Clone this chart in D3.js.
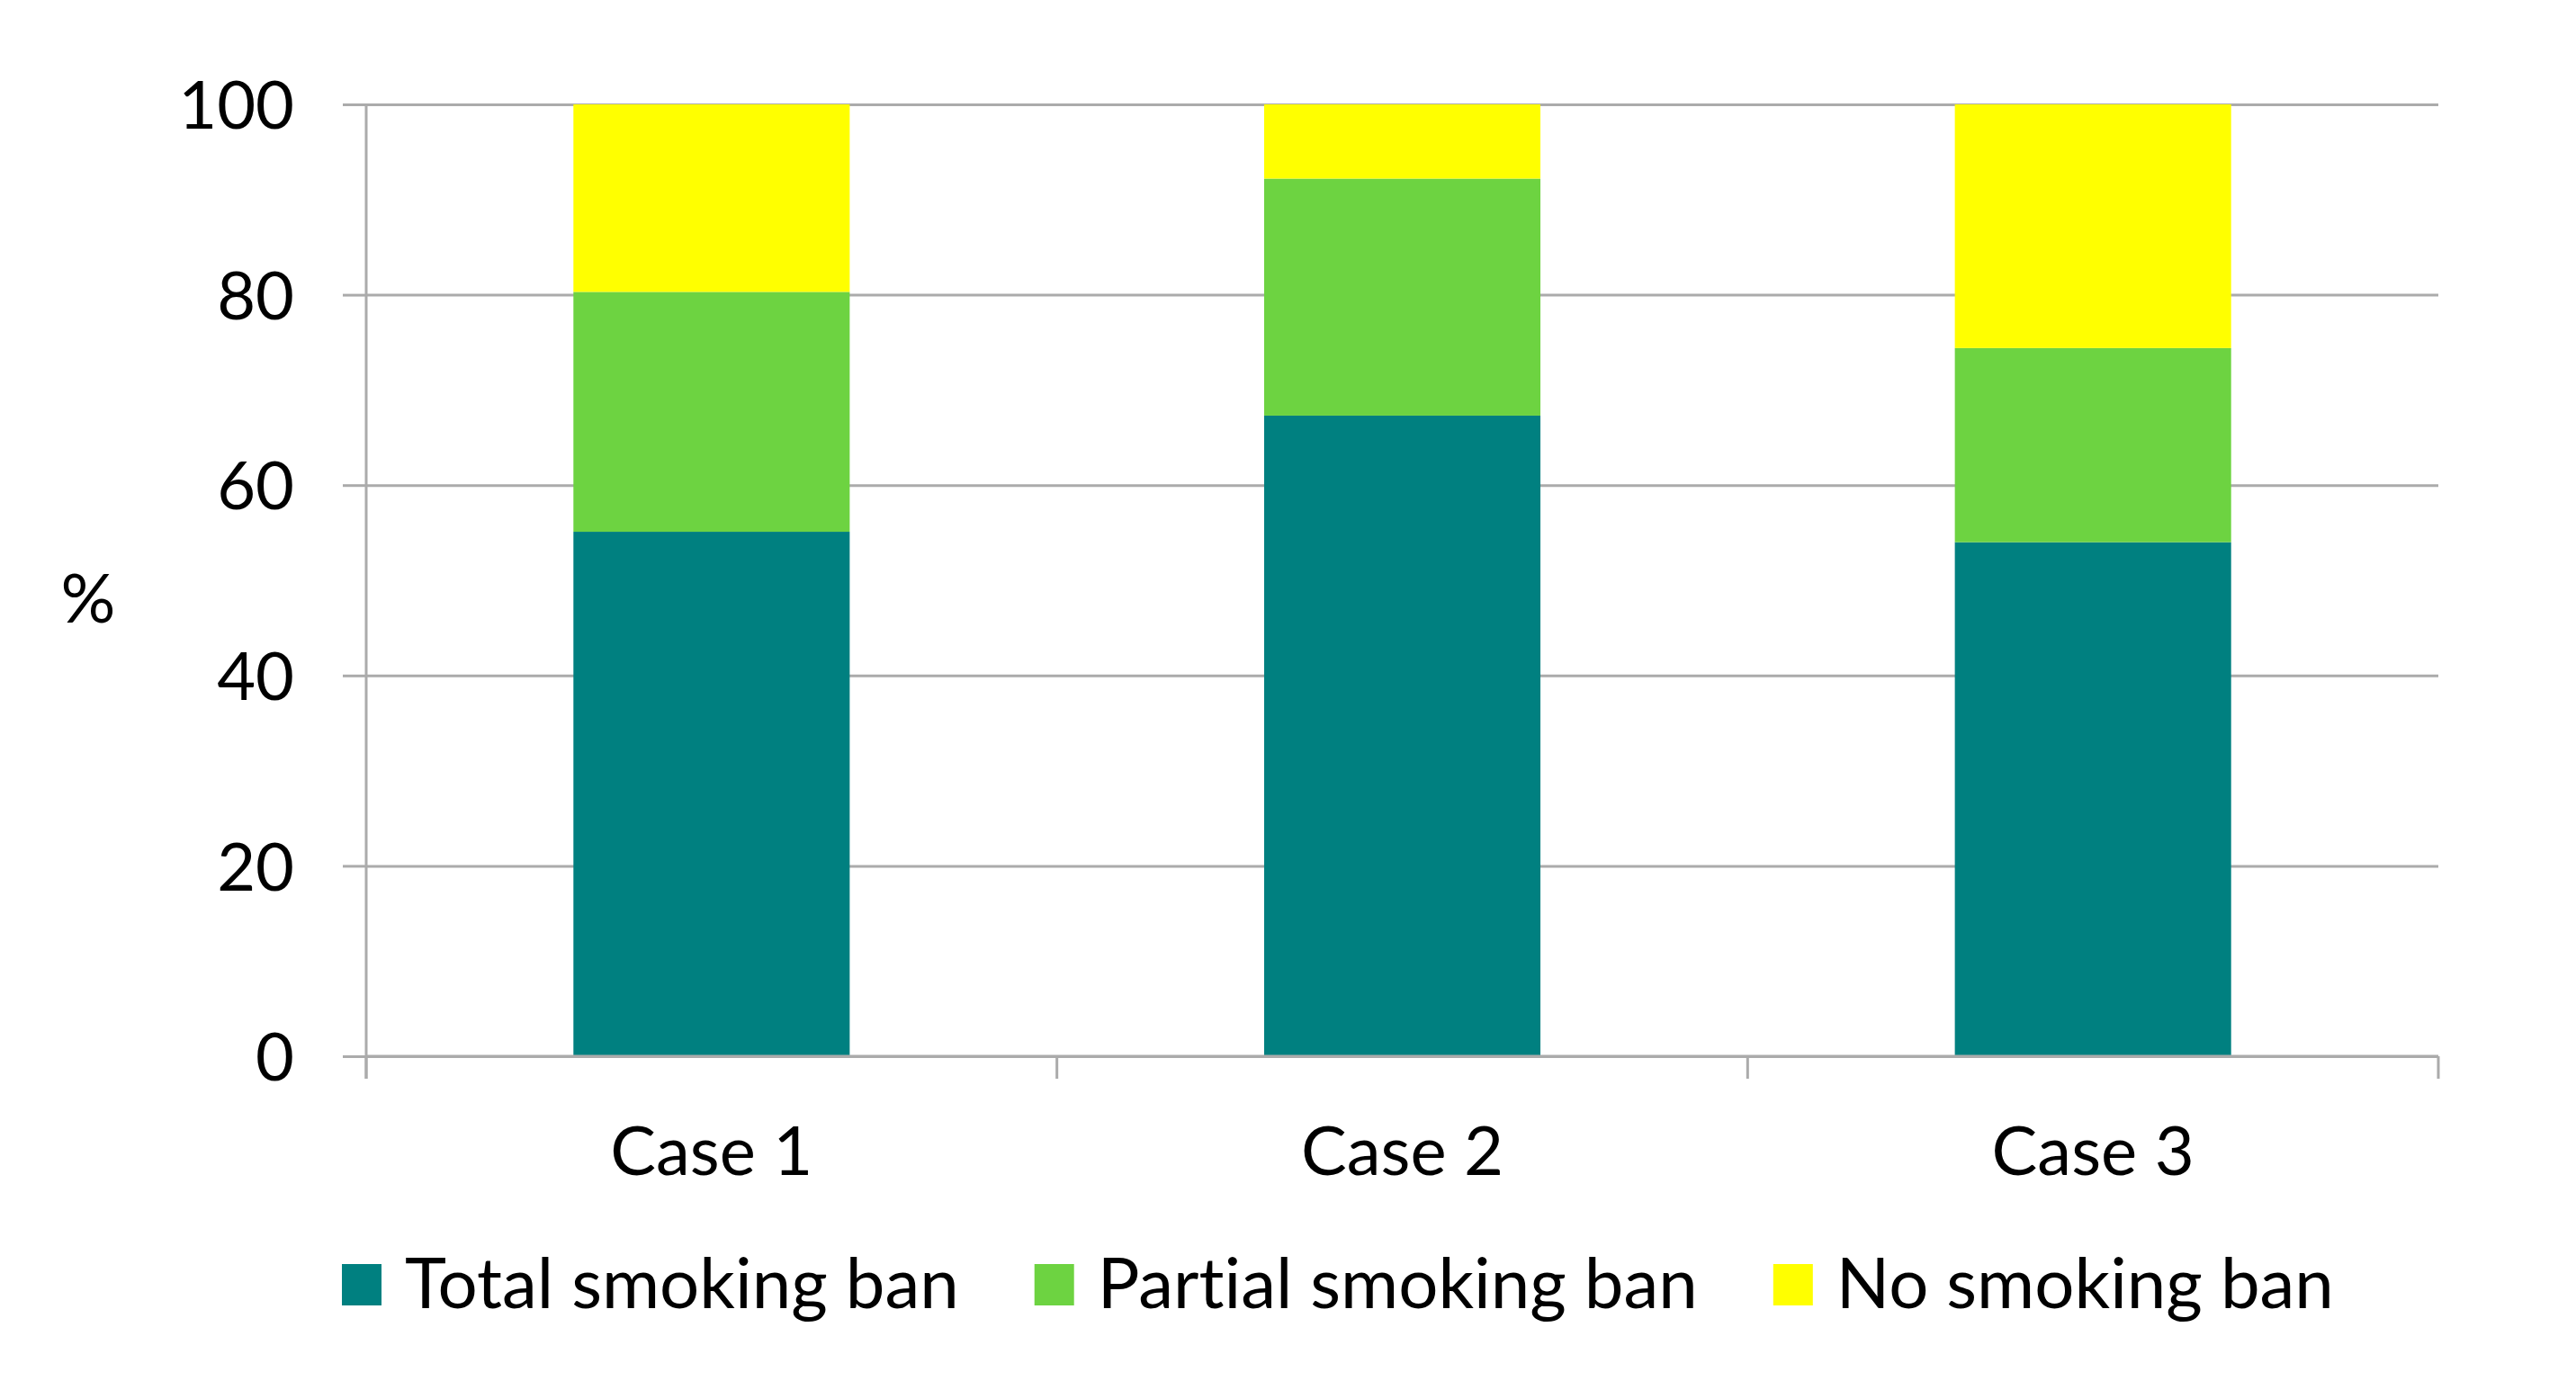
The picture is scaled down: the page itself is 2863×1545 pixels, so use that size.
<!DOCTYPE html>
<html>
<head>
<meta charset="utf-8">
<script src="https://cdn.jsdelivr.net/npm/d3@7"></script>
<style>
  body { margin: 0; background: #fff; }
  text { font-family: Lato, "Open Sans", sans-serif; fill: #000; font-variant-ligatures: none; }
</style>
</head>
<body>
<div id="chart"></div>
<script>
var svgWidth = 2863;
var svgHeight = 1545;

var margin = { top: 116, right: 153, bottom: 371, left: 407 };
var width = svgWidth - margin.left - margin.right;
var height = svgHeight - margin.top - margin.bottom;

// data
var cases = ["Case 1", "Case 2", "Case 3"];
var seriesNames = ["Total smoking ban", "Partial smoking ban", "No smoking ban"];
var totalBan = [55.1, 67.3, 54.0];
var partialBan = [25.2, 24.9, 20.4];
var noBan = [19.7, 7.8, 25.6];
var yTicks = [0, 20, 40, 60, 80, 100];
var colors = ["#008080", "#6dd341", "#ffff00"];

var rows = cases.map(function(c, i) {
  return { name: c, "Total smoking ban": totalBan[i], "Partial smoking ban": partialBan[i], "No smoking ban": noBan[i] };
});

var svg = d3.select("#chart").append("svg")
  .attr("width", svgWidth)
  .attr("height", svgHeight);

var chartGroup = svg.append("g")
  .attr("transform", `translate(${margin.left}, ${margin.top})`);

var x = d3.scaleBand()
  .domain(cases)
  .range([0, width])
  .paddingInner(0.6)
  .paddingOuter(0.3);

var y = d3.scaleLinear().domain([0, 100]).range([height, 0]);

// gridlines
var grid = chartGroup.append("g")
  .call(d3.axisLeft(y).tickValues(yTicks).tickSize(-width).tickFormat(""));
grid.select(".domain").remove();
grid.selectAll("line").attr("stroke", "#ababab").attr("stroke-width", 3);

// left axis with outward ticks and labels
var yAxis = chartGroup.append("g")
  .call(d3.axisLeft(y).tickValues(yTicks).tickSize(26).tickPadding(54));
yAxis.select(".domain").remove();
yAxis.selectAll("line").attr("stroke", "#ababab").attr("stroke-width", 3);
yAxis.selectAll("text")
  .attr("font-size", 74)
  .attr("dy", "0.36em")
  .style("font-family", "Lato, sans-serif");

// vertical axis line
chartGroup.append("line")
  .attr("x1", 0).attr("x2", 0)
  .attr("y1", 0).attr("y2", height + 25)
  .attr("stroke", "#ababab").attr("stroke-width", 3);

// stacked bars
var stacked = d3.stack().keys(seriesNames)(rows);

chartGroup.append("g")
  .selectAll("g")
  .data(stacked)
  .enter()
  .append("g")
  .attr("fill", (d, i) => colors[i])
  .selectAll("rect")
  .data(d => d)
  .enter()
  .append("rect")
  .attr("x", d => x(d.data.name))
  .attr("y", d => y(d[1]))
  .attr("height", d => y(d[0]) - y(d[1]))
  .attr("width", x.bandwidth());

// x axis line with category boundary ticks
chartGroup.append("line")
  .attr("x1", 0).attr("x2", width)
  .attr("y1", height).attr("y2", height)
  .attr("stroke", "#ababab").attr("stroke-width", 3);

var step = x.step();
chartGroup.append("g")
  .selectAll("line")
  .data(d3.range(cases.length + 1))
  .enter()
  .append("line")
  .attr("x1", d => d * step).attr("x2", d => d * step)
  .attr("y1", height).attr("y2", height + 25)
  .attr("stroke", "#ababab").attr("stroke-width", 3);

// category labels
chartGroup.append("g")
  .selectAll("text")
  .data(cases)
  .enter()
  .append("text")
  .attr("x", d => x(d) + x.bandwidth() / 2)
  .attr("y", height + 132)
  .attr("text-anchor", "middle")
  .attr("font-size", 76)
  .text(d => d);

// y label
svg.append("text")
  .attr("x", 98)
  .attr("y", 692)
  .attr("text-anchor", "middle")
  .attr("font-size", 76)
  .text("%");

// legend
var legend = svg.append("g").attr("transform", "translate(380, 1405)");
var lx = 0;
seriesNames.forEach(function(name, i) {
  var item = legend.append("g").attr("transform", `translate(${lx}, 0)`);
  item.append("rect")
    .attr("width", 44).attr("height", 46)
    .attr("fill", colors[i]);
  var t = item.append("text")
    .attr("x", 70)
    .attr("y", 49)
    .attr("font-size", 78)
    .text(name);
  lx += 70 + t.node().getComputedTextLength() + 84;
});
</script>
</body>
</html>
